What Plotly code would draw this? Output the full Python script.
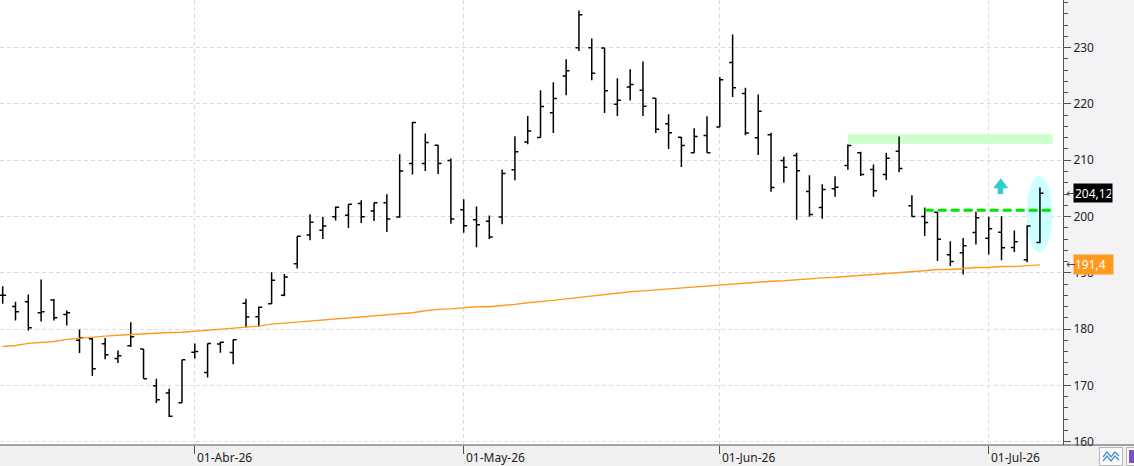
import plotly.graph_objects as go

# ---------------- data ----------------
dates = [
    "2026-03-11", "2026-03-12", "2026-03-13", "2026-03-16", "2026-03-17", "2026-03-18", "2026-03-19",
    "2026-03-20", "2026-03-23", "2026-03-24", "2026-03-25", "2026-03-26", "2026-03-27", "2026-03-30",
    "2026-03-31",
    "2026-04-01", "2026-04-02", "2026-04-06", "2026-04-07", "2026-04-08", "2026-04-09", "2026-04-10",
    "2026-04-13", "2026-04-14", "2026-04-15", "2026-04-16", "2026-04-17", "2026-04-20", "2026-04-21",
    "2026-04-22", "2026-04-23", "2026-04-24", "2026-04-27", "2026-04-28", "2026-04-29", "2026-04-30",
    "2026-05-01", "2026-05-04", "2026-05-05", "2026-05-06", "2026-05-07", "2026-05-08", "2026-05-11",
    "2026-05-12", "2026-05-13", "2026-05-14", "2026-05-15", "2026-05-18", "2026-05-19", "2026-05-20",
    "2026-05-21", "2026-05-22", "2026-05-26", "2026-05-27", "2026-05-28", "2026-05-29",
    "2026-06-01", "2026-06-02", "2026-06-03", "2026-06-04", "2026-06-05", "2026-06-08", "2026-06-09",
    "2026-06-10", "2026-06-11", "2026-06-12", "2026-06-15", "2026-06-16", "2026-06-17", "2026-06-18",
    "2026-06-22", "2026-06-23", "2026-06-24", "2026-06-25", "2026-06-26", "2026-06-29", "2026-06-30",
    "2026-07-01", "2026-07-02", "2026-07-06", "2026-07-07", "2026-07-08",
]

opens = [
    186.0, 184.0, 184.85, 182.9, 185.15, 182.6, 178.0, 178.3, 177.4, 174.8, 177.05, 176.45, 169.95, 168.65,
    166.9,
    175.9, 172.3, 177.35, 175.85, 184.6, 182.2, 184.5, 186.0, 191.6, 196.7, 197.55, 199.95, 200.25, 202.3,
    201.0, 202.45, 199.9, 209.4, 209.4, 212.65, 209.95,
    201.2, 199.45, 199.15, 199.9, 208.3, 213.25, 214.05, 218.45, 224.95, 230.0, 230.0, 229.95, 219.95,
    223.0, 222.45, 221.0, 216.5, 214.1, 211.35, 214.4,
    215.9, 227.35, 221.85, 214.0, 214.55, 209.95, 210.85, 204.45, 201.6, 204.95, 209.05, 211.35, 208.35,
    207.45, 211.6, 201.9, 200.0, 200.75, 193.2, 193.55, 197.15,
    196.15, 197.2, 194.5, 192.3, 195.4,
]

highs = [
    187.6, 184.85, 186.15, 188.8, 185.35, 183.3, 179.95, 178.4, 178.4, 176.2, 181.2, 176.45, 171.2, 169.4,
    174.55,
    177.45, 177.45, 177.75, 178.15, 185.4, 184.0, 190.1, 189.8, 196.5, 200.4, 199.9, 201.8, 202.2, 202.9,
    202.45, 203.95, 211.05, 216.8, 214.75, 212.75, 210.3,
    203.05, 201.8, 200.2, 208.35, 214.25, 217.85, 222.45, 223.85, 227.95, 236.6, 231.65, 230.0, 224.55,
    226.15, 227.55, 221.05, 218.15, 214.15, 215.7, 217.8,
    224.8, 232.35, 222.9, 221.7, 214.9, 210.6, 211.35, 207.35, 205.75, 207.15, 212.8, 211.5, 209.25,
    211.35, 214.2, 203.8, 201.6, 200.75, 195.6, 196.2, 200.85,
    199.95, 200.05, 197.5, 198.4, 205.15,
]

lows = [
    184.5, 181.55, 179.75, 181.35, 181.55, 180.65, 175.75, 171.65, 174.65, 174.0, 176.8, 171.2, 166.85, 164.4,
    166.9,
    174.8, 171.4, 175.8, 173.75, 180.35, 180.45, 184.45, 185.85, 190.75, 195.8, 196.0, 199.3, 197.95, 198.85,
    199.2, 197.25, 199.8, 207.45, 208.1, 207.55, 198.7,
    197.1, 194.55, 196.0, 198.65, 206.45, 212.85, 214.0, 214.85, 221.55, 229.4, 224.2, 218.4, 217.85,
    220.6, 217.85, 214.85, 212.0, 208.8, 211.35, 211.35,
    215.9, 221.25, 214.45, 210.95, 204.4, 206.0, 199.45, 199.95, 199.6, 203.5, 208.3, 207.2, 203.5,
    206.5, 207.85, 199.95, 196.55, 192.1, 191.2, 189.7, 195.05,
    193.25, 192.25, 193.7, 191.9, 195.3,
]

closes = [
    186.0, 183.1, 180.25, 183.1, 182.0, 182.9, 178.45, 172.95, 175.45, 175.25, 178.65, 171.2, 167.45, 164.5,
    174.55,
    176.0, 177.45, 177.65, 178.1, 182.15, 183.9, 188.7, 189.25, 196.5, 199.0, 198.3, 201.65, 202.2, 199.95,
    202.45, 199.55, 208.1, 216.7, 213.15, 209.4, 199.55,
    198.35, 198.55, 196.35, 207.65, 211.5, 215.2, 219.55, 220.95, 225.9, 235.85, 225.45, 222.35, 220.65,
    223.45, 219.6, 215.5, 214.9, 212.6, 214.2, 211.35,
    224.3, 222.9, 214.85, 218.7, 205.15, 208.75, 208.15, 200.35, 204.8, 205.2, 212.6, 207.45, 204.6,
    210.35, 208.55, 200.0, 198.95, 195.95, 192.0, 194.8, 199.8,
    197.85, 194.45, 195.5, 198.3, 204.12,
]

moving_avg = [
    176.92, 177.1, 177.46, 177.63, 177.81, 178.17, 178.4, 178.6, 178.75, 178.9, 179.05, 179.1, 179.23, 179.41,
    179.45,
    179.62, 179.88, 180.0, 180.18, 180.36, 180.53, 180.89, 181.07, 181.24, 181.42, 181.6, 181.78, 182.0, 182.19,
    182.37, 182.54, 182.72, 182.9, 183.25, 183.5, 183.6,
    183.79, 183.96, 183.98, 184.14, 184.4, 184.67, 184.85, 185.1, 185.38, 185.65, 185.9, 186.1, 186.45,
    186.63, 186.8, 186.98, 187.16, 187.34, 187.51, 187.6,
    187.87, 188.05, 188.2, 188.35, 188.5, 188.6, 188.8, 188.95, 189.1, 189.2, 189.35, 189.5, 189.65,
    189.8, 189.94, 190.18, 190.36, 190.6, 190.6, 190.77, 190.95,
    190.95, 191.13, 191.13, 191.31, 191.42,
]

month_ticks = ["2026-04-01", "2026-05-01", "2026-06-01", "2026-07-01"]
month_labels = ["01-Abr-26", "01-May-26", "01-Jun-26", "01-Jul-26"]
y_ticks = [160, 170, 180, 190, 200, 210, 220, 230]

zone_low, zone_high = 212.95, 214.62
zone_start = "2026-06-15"
breakout_level = 201.13
breakout_start = "2026-06-24"
last_close_text = "204,12"
ma_last_text = "191,4"

# ---------------- geometry helpers ----------------
W, H = 1134, 466
M_L, M_R, M_T, M_B = 0, 71, 0, 21
PW, PH = W - M_L - M_R, H - M_T - M_B
X_RANGE = [-0.21, 82.8]
Y_RANGE = [159.41, 238.47]


def pxx(p):
    return (p - M_L) / PW


def pxy(p):
    return (H - M_B - p) / PH


n = len(dates)
last = n - 1
orange = "#ff9a1f"

fig = go.Figure()

fig.add_trace(go.Scatter(
    x=dates, y=moving_avg, mode="lines",
    line=dict(color=orange, width=1.4), hoverinfo="skip", showlegend=False,
))

fig.add_trace(go.Ohlc(
    x=dates, open=opens, high=highs, low=lows, close=closes,
    increasing=dict(line=dict(color="black", width=1.5)),
    decreasing=dict(line=dict(color="black", width=1.5)),
    tickwidth=0.27, showlegend=False,
))

shapes = []
# resistance zone
shapes.append(dict(type="rect", xref="x", yref="y", layer="between",
                   x0=dates.index(zone_start), x1=last + 0.99, y0=zone_low, y1=zone_high,
                   fillcolor="#ccffcc", line=dict(width=0)))
# highlight ellipse on last bar
shapes.append(dict(type="circle", xref="x", yref="y", layer="between",
                   x0=last - 1.04, x1=last + 0.96, y0=193.6, y1=207.2,
                   fillcolor="#ccffff", line=dict(width=0)))
# breakout dashed line
shapes.append(dict(type="line", xref="x", yref="y", layer="above",
                   x0=dates.index(breakout_start), x1=last + 0.96, y0=breakout_level, y1=breakout_level,
                   line=dict(color="#00e600", width=3, dash="9px,4px")))
# up arrow
ax0 = dates.index("2026-07-01")
arrow_path = (
    f"M {ax0 + 0.94} 206.8 L {ax0 + 1.53} 205.02 L {ax0 + 1.13} 205.02 L {ax0 + 1.13} 204.0 "
    f"L {ax0 + 0.70} 204.0 L {ax0 + 0.70} 205.02 L {ax0 + 0.35} 205.02 Z"
)
shapes.append(dict(type="path", xref="x", yref="y", layer="above", path=arrow_path,
                   fillcolor="#33cccc", line=dict(width=0)))
# bottom strip background and axis line across full width
shapes.append(dict(type="rect", xref="paper", yref="paper", layer="below",
                   x0=pxx(0), x1=pxx(W), y0=pxy(H), y1=pxy(445),
                   fillcolor="#f0f0f0", line=dict(width=0)))
shapes.append(dict(type="line", xref="paper", yref="paper", layer="above",
                   x0=pxx(0), x1=pxx(W), y0=0, y1=0, line=dict(color="#505050", width=1)))
# toolbar icons (bottom right)
shapes.append(dict(type="rect", xref="paper", yref="paper", layer="above",
                   x0=pxx(1099.5), x1=pxx(1122.5), y0=pxy(465.5), y1=pxy(447.5),
                   fillcolor="#fafafa", line=dict(color="#b8b8b8", width=1)))
shapes.append(dict(type="path", xref="paper", yref="paper", layer="above",
                   path=(f"M {pxx(1103)} {pxy(457)} L {pxx(1107)} {pxy(452)} L {pxx(1111)} {pxy(457)} "
                         f"L {pxx(1115)} {pxy(452)} L {pxx(1119)} {pxy(456)}"),
                   line=dict(color="#4a8fd6", width=1.3)))
shapes.append(dict(type="path", xref="paper", yref="paper", layer="above",
                   path=(f"M {pxx(1103)} {pxy(461)} L {pxx(1107)} {pxy(456)} L {pxx(1111)} {pxy(461)} "
                         f"L {pxx(1115)} {pxy(456)} L {pxx(1119)} {pxy(460)}"),
                   line=dict(color="#4a8fd6", width=1.3)))
shapes.append(dict(type="rect", xref="paper", yref="paper", layer="above",
                   x0=pxx(1126.5), x1=pxx(1135), y0=pxy(465.5), y1=pxy(447.5),
                   fillcolor="#fafafa", line=dict(color="#b8b8b8", width=1)))
shapes.append(dict(type="rect", xref="paper", yref="paper", layer="above",
                   x0=pxx(1129), x1=pxx(1135), y0=pxy(463), y1=pxy(450),
                   fillcolor="#7b4fc8", line=dict(width=0)))

annotations = []
for d, lab in zip(month_ticks, month_labels):
    annotations.append(dict(x=dates.index(d), y=0, xref="x", yref="paper", text=lab,
                            showarrow=False, xanchor="left", yanchor="top", xshift=1, yshift=-4,
                            height=15, borderpad=0, valign="middle",
                            font=dict(size=12, color="#222222", family="Noto Sans")))
# right-side price labels
annotations.append(dict(x=1, y=closes[-1], xref="paper", yref="y", text=last_close_text,
                        showarrow=False, xanchor="left", yanchor="middle", xshift=10,
                        bgcolor="black", font=dict(color="white", size=12, family="Noto Sans"),
                        width=36, height=16, align="left", borderpad=1))
annotations.append(dict(x=1, y=moving_avg[-1], xref="paper", yref="y", text=ma_last_text,
                        showarrow=False, xanchor="left", yanchor="middle", xshift=10,
                        bgcolor=orange, font=dict(color="white", size=12, family="Noto Sans"),
                        width=37, height=17, align="left", borderpad=1))
for yv in (closes[-1], moving_avg[-1]):
    annotations.append(dict(x=1, y=yv, xref="paper", yref="y", text="←", showarrow=False,
                            xanchor="left", yanchor="middle", xshift=1,
                            font=dict(color="#444444", size=11, family="DejaVu Sans")))

fig.update_layout(
    width=W, height=H,
    margin=dict(l=M_L, r=M_R, t=M_T, b=M_B, pad=0),
    paper_bgcolor="#f3f3f5",
    plot_bgcolor="white",
    font=dict(family="Noto Sans", size=12, color="#222222"),
    showlegend=False,
    shapes=shapes,
    annotations=annotations,
    xaxis=dict(
        type="category", range=X_RANGE, rangeslider=dict(visible=False),
        tickvals=month_ticks, ticktext=[""] * len(month_ticks), showticklabels=False,
        ticks="outside", ticklen=8, tickcolor="#505050",
        showgrid=True, gridcolor="#dcdcdc", griddash="4px,3px", gridwidth=1,
        showline=False, zeroline=False, fixedrange=True,
    ),
    yaxis=dict(
        side="right", range=Y_RANGE, tickvals=y_ticks, ticktext=[str(v) for v in y_ticks],
        ticks="outside", ticklen=7, tickcolor="#505050",
        minor=dict(dtick=2, tick0=160, ticks="outside", ticklen=4, tickcolor="#505050", showgrid=False),
        showgrid=True, gridcolor="#dcdcdc", griddash="4px,3px", gridwidth=1,
        showline=True, linecolor="#505050", linewidth=1, zeroline=False,
        tickfont=dict(size=12, color="#222222", family="Noto Sans"), fixedrange=True,
    ),
)

fig.write_html("out.html")
